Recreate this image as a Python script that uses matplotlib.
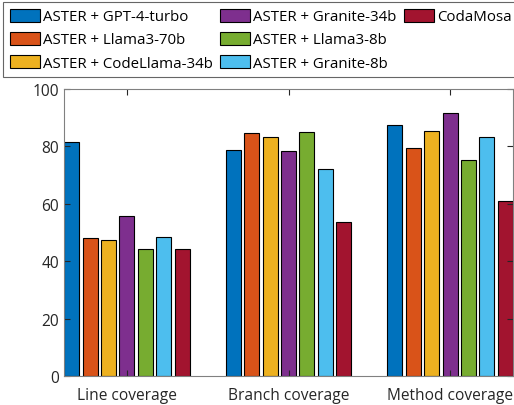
import matplotlib

matplotlib.use("Agg")
import matplotlib.pyplot as plt
import numpy as np
from matplotlib.patches import Patch

categories = ["Line coverage", "Branch coverage", "Method coverage"]
series_names = [
    "ASTER + GPT-4-turbo",
    "ASTER + Llama3-70b",
    "ASTER + CodeLlama-34b",
    "ASTER + Granite-34b",
    "ASTER + Llama3-8b",
    "ASTER + Granite-8b",
    "CodaMosa",
]
gpt4_turbo = [81.5, 78.7, 87.4]
llama3_70b = [48.0, 84.7, 79.3]
codellama_34b = [47.3, 83.4, 85.2]
granite_34b = [55.6, 78.4, 91.5]
llama3_8b = [44.3, 85.1, 75.2]
granite_8b = [48.3, 72.1, 83.4]
codamosa = [44.3, 53.7, 61.0]

series_values = [gpt4_turbo, llama3_70b, codellama_34b, granite_34b,
                 llama3_8b, granite_8b, codamosa]
colors = ["#0072BD", "#D95319", "#EDB120", "#7E2F8E", "#77AC30", "#4DBEEE", "#A2142F"]

plt.rcParams["font.family"] = ["Open Sans", "DejaVu Sans"]
fig = plt.figure(figsize=(5.14, 4.06), dpi=100)
ax = fig.add_axes([64 / 514, 29 / 406, 449 / 514, 287 / 406])

x = np.arange(1, len(categories) + 1)
pitch = 0.114
width = 0.0926
handles = []
for i, (name, vals, col) in enumerate(zip(series_names, series_values, colors)):
    b = ax.bar(x + (i - 3) * pitch, vals, width, color=col, edgecolor="black",
               linewidth=0.8, label=name)
    handles.append(b)

ax.set_xlim(0.611, 3.389)
ax.set_ylim(0, 100)
ax.set_xticks(x)
ax.set_xticklabels(categories)
ax.set_yticks(np.arange(0, 101, 20))
ax.tick_params(direction="in", top=True, right=True, length=4, width=0.8,
               labelsize=11.2, colors="#262626", labelcolor="#262626")
ax.tick_params(axis="x", pad=8)
for sp in ax.spines.values():
    sp.set_color("#808080")
    sp.set_linewidth(0.8)

# two empty slots so the legend fills 3 + 3 + 1 like the original
blank = Patch(facecolor="none", edgecolor="none", label="")
leg_handles = handles[:6] + [handles[6], blank, blank]
leg_labels = series_names + ["", ""]
leg = fig.legend(leg_handles, leg_labels, loc="upper left",
                 bbox_to_anchor=(3 / 514, 1 - 3 / 406),
                 ncol=3, fontsize=10.8, frameon=True, fancybox=False, edgecolor="#404040",
                 handlelength=2.0, handleheight=0.95, handletextpad=0.2,
                 columnspacing=0.5, labelspacing=0.5, borderpad=0.45, borderaxespad=0)
leg.get_frame().set_linewidth(0.8)

fig.savefig("out.png")
